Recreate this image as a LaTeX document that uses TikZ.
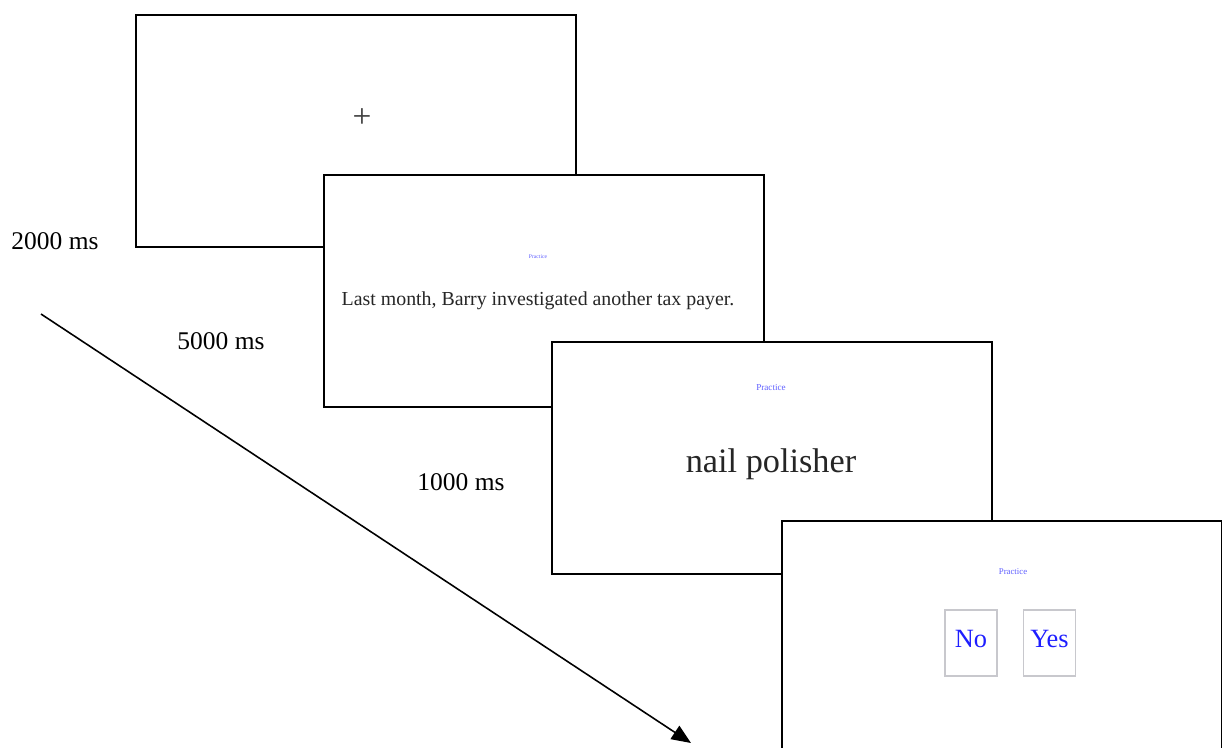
\documentclass[tikz,border=0pt]{standalone}
\usepackage{fontspec}
\setmainfont{Liberation Serif}
\usetikzlibrary{arrows.meta,positioning}
\definecolor{pracblue}{RGB}{95,95,255}
\definecolor{keyblue}{RGB}{30,30,255}
\definecolor{keygray}{RGB}{200,200,205}

\begin{document}
\begin{tikzpicture}[x=0.02cm,y=-0.02cm,
screen/.style={draw,line width=1.1pt,fill=white,minimum width=8.8cm,minimum height=4.64cm,inner sep=0pt},
dur/.style={font=\fontsize{14.5}{17}\selectfont},
prac/.style={text=pracblue,inner sep=0pt},
keybox/.style={draw=keygray,line width=0.6pt,minimum width=1.04cm,minimum height=1.32cm,inner sep=0pt},
keytext/.style={text=keyblue,font=\fontsize{15}{17}\selectfont}]
\useasboundingbox (0,0) rectangle (1222,747);
\clip (0,0) rectangle (1222,747);
% Fixation
\node[screen] (s1) at (356,131) {};
\node[text=black!75,font=\fontsize{19}{20}\selectfont] (fix) at (362,118) {+};
% Sentence
\node[screen] (s2) at (544,291) {};
\node[prac,font=\fontsize{3.2}{4}\selectfont] (p2) at (538,257) {Practice};
\node[text=black!85,font=\fontsize{11.3}{14}\selectfont] (sent) at (538,301) {Last month, Barry investigated another tax payer.};
% Probe
\node[screen] (s3) at (772,458) {};
\node[prac,font=\fontsize{5.2}{6}\selectfont] (p3) at (771,388) {Practice};
\node[text=black!85,font=\fontsize{19.5}{22}\selectfont] (probe) at (771,464) {nail polisher};
% Response
\node[screen] (s4) at (1002,637) {};
\node[prac,font=\fontsize{5}{6}\selectfont] (p4) at (1013,572) {Practice};
\node[keybox] (no) at (971,643) {};
\node[keybox] (yes) at (1049.5,643) {};
\node[keytext] at (971,639) {No};
\node[keytext] at (1049.5,639) {Yes};
% Durations
\node[dur] (d1) at (55,241) {2000 ms};
\node[dur] (d2) at (221,341) {5000 ms};
\node[dur] (d3) at (461,482) {1000 ms};
% Time arrow
\coordinate (t0) at (41,314);
\coordinate (t1) at (691,743);
\draw[line width=0.9pt,-{Triangle[length=11pt,width=9pt]}] (t0) -- (t1);
\end{tikzpicture}
\end{document}
